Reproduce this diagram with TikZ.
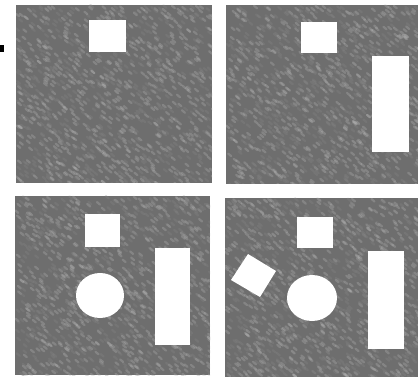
\documentclass[tikz,border=0pt]{standalone}
\definecolor{panelgray}{HTML}{6E6E6E}
\tikzset{
  hole/.style={fill=white},
  grain/.style={line width=2.2pt, line cap=round, opacity=0.3},
}
\newcommand\texpanel[4]{%
  \fill[panelgray] (#1,#2) rectangle (#3,#4);
  \begin{scope}
    \clip (#1,#2) rectangle (#3,#4);
    \foreach \k in {1,...,1300}{
      \pgfmathsetmacro\px{#1+rnd*(#3-#1)}
      \pgfmathsetmacro\py{#2+rnd*(#4-#2)}
      \pgfmathsetmacro\sh{rnd}
      \ifdim\sh pt<0.5pt \def\cc{gray!55}\else\def\cc{gray!95}\fi
      \draw[grain,\cc] (\px,\py) -- ++(3,2.5);
    }
  \end{scope}}
\begin{document}
\begin{tikzpicture}[x=1pt,y=-1pt]
\pgfmathsetseed{7}
\useasboundingbox[fill=white] (0,0) rectangle (418,377);
% small black mark
\fill[black] (0,45) rectangle (4,52);
% panels
\texpanel{16}{5}{212}{183}
\texpanel{226}{5}{418}{184}
\texpanel{15}{196}{210}{375}
\texpanel{225}{198}{418}{377}
% panel 1
\fill[hole] (89,20) rectangle (126,52);
% panel 2
\fill[hole] (301,22) rectangle (337,53);
\fill[hole] (372,56) rectangle (409,152);
% panel 3
\fill[hole] (85,214) rectangle (120,247);
\fill[hole] (100,295.5) ellipse [x radius=24pt, y radius=22.5pt];
\fill[hole] (155,248) rectangle (190,345);
% panel 4
\fill[hole] (297,217) rectangle (333,248);
\fill[hole] (248,254) -- (276,271) -- (260,297) -- (231,280) -- cycle;
\fill[hole] (312,298) ellipse [x radius=25pt, y radius=23pt];
\fill[hole] (368,251) rectangle (404,349);
\end{tikzpicture}
\end{document}
